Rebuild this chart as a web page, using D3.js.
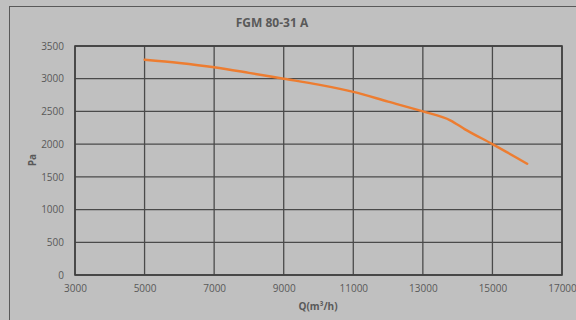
<!DOCTYPE html>
<html><head><meta charset="utf-8">
<script src="https://cdn.jsdelivr.net/npm/d3@7"></script>
<style>html,body{margin:0;padding:0;background:#c0c0c0;}svg{display:block;}</style>
</head><body>
<script>
const flow = [5000, 6000, 7000, 8000, 9000, 10000, 11000, 12000, 13000, 13800, 14200, 15000, 16000];
const pressure = [3290, 3240, 3175, 3090, 3000, 2910, 2800, 2650, 2500, 2360, 2230, 2000, 1700];
const xTicks = [3000, 5000, 7000, 9000, 11000, 13000, 15000, 17000];
const yTicks = [0, 500, 1000, 1500, 2000, 2500, 3000, 3500];
const title = "FGM 80-31 A";
const xTitle = "Q(m³/h)";
const yTitle = "Pa";

const W = 576, H = 320;
const svg = d3.select("body").append("svg").attr("width", W).attr("height", H);
svg.append("rect").attr("width", W).attr("height", H).attr("fill", "#c0c0c0");
svg.append("rect").attr("x", 9.5).attr("y", 6.5).attr("width", 600).attr("height", 400)
  .attr("fill", "none").attr("stroke", "#595959").attr("stroke-width", 1);

const L = 75, R = 562, T = 46, B = 275;
const x = d3.scaleLinear().domain([3000, 17000]).range([L, R]);
const y = d3.scaleLinear().domain([0, 3500]).range([B, T]);
const font = "'Open Sans', 'Liberation Sans', sans-serif";
const txt = "#595959";

const g = svg.append("g");
// horizontal gridlines
g.selectAll(".hg").data(yTicks).join("line")
  .attr("x1", L).attr("x2", R).attr("y1", d => y(d)).attr("y2", d => y(d))
  .attr("stroke", "#4a4a4a").attr("stroke-width", 1.3);
// vertical gridlines
g.selectAll(".vg").data(xTicks).join("line")
  .attr("x1", d => x(d)).attr("x2", d => x(d)).attr("y1", T).attr("y2", B)
  .attr("stroke", "#4a4a4a").attr("stroke-width", 1.3);
// plot border
g.append("rect").attr("x", L).attr("y", T).attr("width", R - L).attr("height", B - T)
  .attr("fill", "none").attr("stroke", "#404040").attr("stroke-width", 1.6);

// axes labels via d3 axes
const yAxis = svg.append("g").attr("transform", `translate(${L},0)`)
  .call(d3.axisLeft(y).tickValues(yTicks).tickSize(0).tickPadding(11).tickFormat(d3.format("d")));
const xAxis = svg.append("g").attr("transform", `translate(0,${B})`)
  .call(d3.axisBottom(x).tickValues(xTicks).tickSize(0).tickPadding(10).tickFormat(d3.format("d")));
[yAxis, xAxis].forEach(a => {
  a.select(".domain").remove();
  a.selectAll("text").attr("fill", txt).style("font-family", font).style("font-size", "10px");
});

// curve
const pts = flow.map((f, i) => [f, pressure[i]]);
svg.append("path").datum(pts)
  .attr("d", d3.line().x(d => x(d[0])).y(d => y(d[1])).curve(d3.curveMonotoneX))
  .attr("fill", "none").attr("stroke", "#ED7D31").attr("stroke-width", 2.4).attr("stroke-linecap", "round");

// titles
svg.append("text").attr("x", 272).attr("y", 27).attr("text-anchor", "middle")
  .attr("fill", txt).style("font-family", font).style("font-size", "12px").style("font-weight", "bold").text(title);
svg.append("text").attr("x", 318).attr("y", 310).attr("text-anchor", "middle")
  .attr("fill", txt).style("font-family", font).style("font-size", "10px").style("font-weight", "bold").text(xTitle);
svg.append("text").attr("transform", "translate(36,160) rotate(-90)").attr("text-anchor", "middle")
  .attr("fill", txt).style("font-family", font).style("font-size", "10px").style("font-weight", "bold").text(yTitle);
</script>
</body></html>
